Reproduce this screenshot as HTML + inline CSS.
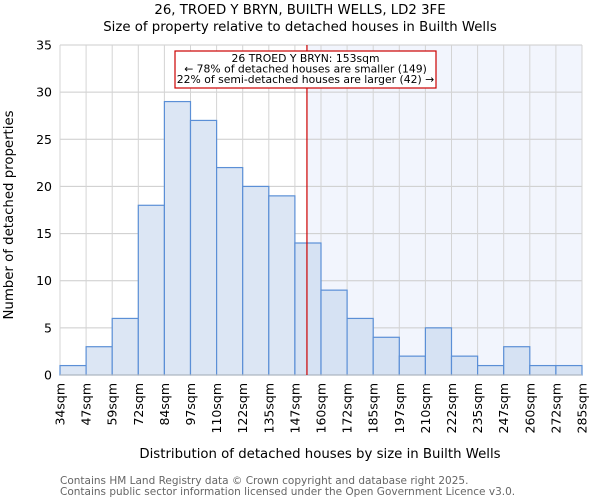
<!DOCTYPE html>
<html><head><meta charset="utf-8"><style>
body{margin:0;background:#fff;font-family:"DejaVu Sans","Liberation Sans",sans-serif}
</style></head><body>
<svg id="chart" width="600" height="500" viewBox="0 0 600 500" xmlns="http://www.w3.org/2000/svg" font-family="DejaVu Sans, Liberation Sans, sans-serif">
<text x="300" y="14" text-anchor="middle" font-size="13.3">26, TROED Y BRYN, BUILTH WELLS, LD2 3FE</text>
<text x="300" y="31" text-anchor="middle" font-size="13.3">Size of property relative to detached houses in Builth Wells</text>
<g id="plot"></g>
<text x="320" y="458" text-anchor="middle" font-size="13.3">Distribution of detached houses by size in Builth Wells</text>
<text transform="translate(13,215) rotate(-90)" text-anchor="middle" font-size="13.3">Number of detached properties</text>
<text x="60" y="484" font-size="10.5" fill="#666">Contains HM Land Registry data © Crown copyright and database right 2025.</text>
<text x="60" y="495" font-size="10.5" fill="#666">Contains public sector information licensed under the Open Government Licence v3.0.</text>
</svg>
<script>
const binLabels=["34sqm","47sqm","59sqm","72sqm","84sqm","97sqm","110sqm","122sqm","135sqm","147sqm","160sqm","172sqm","185sqm","197sqm","210sqm","222sqm","235sqm","247sqm","260sqm","272sqm","285sqm"];
const binEdges=[34,47,59,72,84,97,110,122,135,147,160,172,185,197,210,222,235,247,260,272,285];
const counts=[1,3,6,18,29,27,22,20,19,14,9,6,4,2,5,2,1,3,1,1];
const yTicks=[0,5,10,15,20,25,30,35];
const propertySize=153;
const NS="http://www.w3.org/2000/svg";
const L=60,R=582,T=45,B=375,yMax=35,n=counts.length;
const bw=(R-L)/n;
const xi=i=>L+i*bw;
const y=v=>B-(v/yMax)*(B-T);
function xv(v){for(let i=0;i<binEdges.length-1;i++){if(v<=binEdges[i+1])return xi(i)+bw*(v-binEdges[i])/(binEdges[i+1]-binEdges[i]);}return R;}
const g=document.getElementById('plot');
function mk(t,a){const e=document.createElementNS(NS,t);for(const k in a)e.setAttribute(k,a[k]);g.appendChild(e);return e;}
const mx=xv(propertySize);
let e=mk('rect',{x:mx,y:T,width:R-mx,height:B-T,fill:'#f2f5fd'});


yTicks.forEach(t=>{let l=mk('line',{x1:L,x2:R,y1:y(t),y2:y(t),stroke:'#ccc','stroke-width':1});


let tx=mk('text',{x:L-8,y:y(t)+4.5,'text-anchor':'end','font-size':'12.5'});tx.textContent=t;

});
for(let i=0;i<=n;i++){let l=mk('line',{x1:xi(i),x2:xi(i),y1:T,y2:B,stroke:'#d4d4d4','stroke-width':1});

}
counts.forEach((c,i)=>{const right=xi(i)>=mx-bw/2;let r=mk('rect',{x:xi(i),y:y(c),width:bw,height:B-y(c),fill:right?'#d6e2f3':'#dce6f4',stroke:'#5b8fd6','stroke-width':1.2});

});
binLabels.forEach((s,i)=>{let tx=mk('text',{transform:`translate(${xi(i)+4.5},383) rotate(-90)`,'text-anchor':'end','font-size':'12.5'});tx.textContent=s;

});
let ax=mk('line',{x1:L,x2:R,y1:B,y2:B,stroke:'#bbb','stroke-width':1});


let ml=mk('line',{x1:mx,x2:mx,y1:T,y2:B,stroke:'#cc0000','stroke-width':1.2});


let box=mk('rect',{x:175,y:51,width:261,height:37,fill:'#fff',stroke:'#cc0000','stroke-width':1.2});


["26 TROED Y BRYN: 153sqm","← 78% of detached houses are smaller (149)","22% of semi-detached houses are larger (42) →"].forEach((s,i)=>{let tx=mk('text',{x:305.5,y:62+i*10.5,'text-anchor':'middle','font-size':'10.8'});tx.textContent=s;

});
</script>
</body></html>
